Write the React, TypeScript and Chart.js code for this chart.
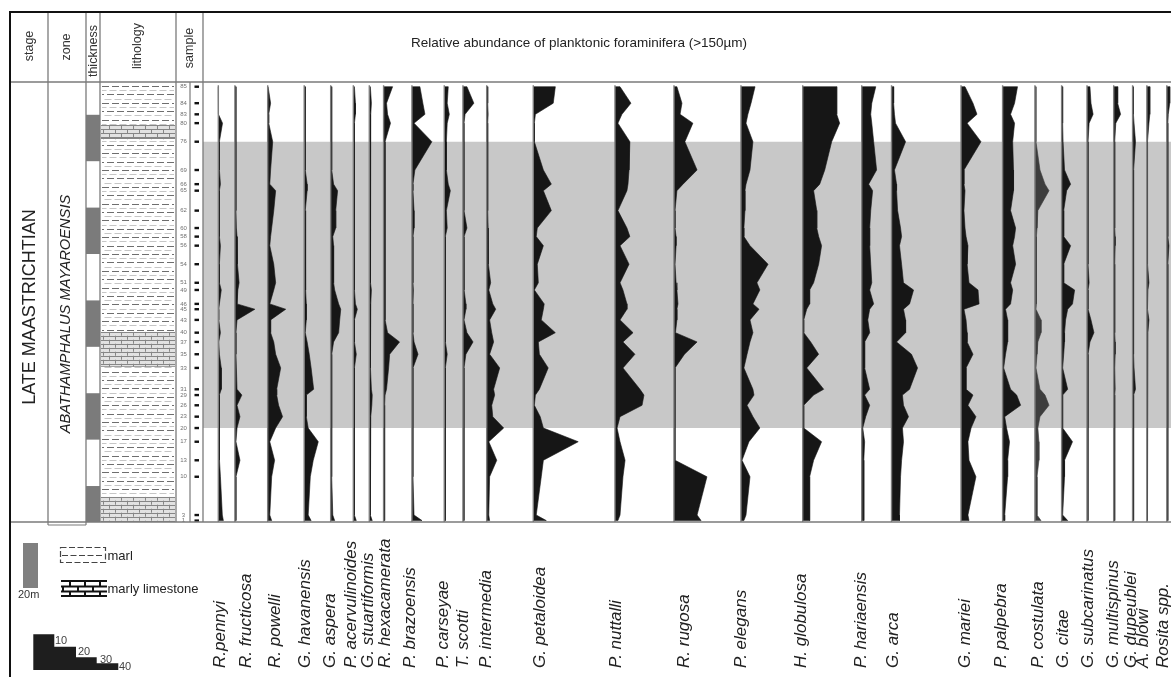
import React, { useEffect, useRef } from 'react';
import { Chart, registerables } from 'chart.js';

Chart.register(...registerables);

// ---------------- data ----------------
const SAMPLES = ['85','84','83','80','76','69','66','65','62','60','58','56','54','51','49','46','45','43','40','37','35','33','31','29','26','23','20','17','13','10','3','1'];
// stratigraphic height of each sample (m above section base)
const SAMPLE_HEIGHT = [187.6,180.5,175.7,171.9,163.9,151.7,145.6,142.8,134.2,126.7,123.0,119.1,111.1,103.1,100.0,94.0,91.7,87.1,81.6,77.6,72.3,66.4,57.2,54.7,50.3,45.4,40.5,34.6,26.6,19.5,3.0,0.6];

const THICKNESS_BANDS = [[0, 15.5], [35.5, 55.5], [75.5, 95.5], [115.5, 135.5], [155.5, 175.5]];
const LIMESTONE_BEDS = [[0, 10.9], [66.9, 82.0], [165.0, 171.1]];
const HIGHLIGHT_FROM_SAMPLE = '20';
const HIGHLIGHT_TO_SAMPLE = '76';

const SPECIES = ['R.pennyi','R. fructicosa','R. powelli','G. havanensis','G. aspera','P. acervulinoides','G. stuartiformis','R. hexacamerata','P. brazoensis','P. carseyae','T. scotti','P. intermedia','G. petaloidea','P. nuttalli','R. rugosa','P. elegans','H. globulosa','P. hariaensis','G. arca','G. mariei','P. palpebra','P. costulata','G. citae','G. subcarinatus','G. multispinus','G. dupeublei','A. blowi','Rosita spp.'];

// relative abundance (%) per sample, top (85) to bottom (1)
const R_PENNYI = [0,0,0.2,2, 0.5,0.5,1,0.5, 0.5,0.5,0.5,1, 0.5,0.5,1.4,0.5, 0.2,0.2,1,0.2, 0.5,1.4,1.4,0.5, 0.5,0.5,0.5,0.5, 0.7,1,1.9,2.4];
const R_FRUCTICOSA = [0.5,0.5,0.5,0.5, 0.5,0.5,0.5,0.5, 0.5,0.7,1,1, 1.4,2,1.4,1, 9.5,1,0.5,0.5, 0.5,0.7,1,3.3, 1,2.4,1,0.5, 2.4,0.5,0.5,0.5];
const R_POWELLI = [0.2,1.4,0.5,0.5, 2.4,1.4,1,3.8, 2.9,1.9,1.4,1, 2.9,3.8,2.9,1, 8.6,1.4,1.4,2.9, 3.8,6.2,4.3,4.3, 5.2,7.1,3.8,1, 3.3,1.9,1,1.9];
const G_HAVANENSIS = [0.5,0.5,0.5,0.5, 0.5,0.5,1.4,1.4, 0.5,0.5,0.7,0.7, 0.7,0.7,0.7,1, 1,1,0.5,1.4, 2.4,3.3,4.5,1, 1,1,1.9,6.7, 4.3,2.9,1.9,3.3];
const G_ASPERA = [0.5,0.5,0.5,0.5, 0.5,0.5,1.4,3.3, 2.4,2.4,1,1.4, 1.4,1.4,1.9,3.8, 4.8,4.3,3.8,1.4, 0.5,0.5,0.5,0.5, 0.5,0.5,0.5,0.5, 0.5,0.5,1,1.9];
const P_ACERVULINOIDES = [0.5,1,1,0.5, 0.5,0.5,0.5,0.5, 0.5,0.5,0.5,0.5, 0.5,0.5,0.5,1, 1.9,0.5,0.5,0.5, 1.4,0.5,0.5,0.5, 0.5,0.5,0.5,0.5, 0.5,0.5,0.5,1.4];
const G_STUARTIFORMIS = [0.5,1,0.7,0.5, 0.5,0.5,0.5,0.5, 0.5,0.5,0.7,0.7, 0.7,0.7,1,0.7, 0.5,0.5,0.5,0.5, 0.5,0.7,1,1.4, 1.2,0.7,0.5,0.5, 0.5,0.5,0.5,1.4];
const R_HEXACAMERATA = [4.3,1.4,1.9,3.3, 0.7,0.7,0.7,0.7, 0.7,0.7,0.7,0.7, 0.7,0.7,0.7,0.7, 0.7,1,1.9,7.6, 2.9,2.4,1.4,0.7, 0.5,0.5,0.5,0.5, 0.5,0.5,0.5,0.5];
const P_BRAZOENSIS = [3.8,5.2,6.2,1, 9.5,1.4,0.5,0.5, 1,1,0.5,0.5, 0.5,0.5,0.7,0.5, 0.5,0.5,0.5,1, 2.9,0.5,0.5,0.5, 0.5,0.5,0.5,0.5, 0.5,0.5,1,4.8];
const P_CARSEYAE = [1.9,1.4,2.4,1.4, 1,1,1.9,2.9, 1,1.4,0.5,0.5, 0.5,0.5,0.5,0.5, 0.5,0.5,0.5,0.7, 1.4,0.5,0.5,0.5, 0.5,0.5,0.5,0.5, 0.5,0.5,0.5,0.5];
const T_SCOTTI = [1.9,5.2,1,0.5, 0.5,0.5,0.5,0.5, 0.5,1.9,0.5,0.5, 0.5,0.7,0.5,1.4, 1.4,0.5,1.9,4.8, 1.4,0.5,0.5,0.5, 0.5,0.5,0.5,0.5, 0.5,0.5,0.5,0.7];
const P_INTERMEDIA = [0.5,0.5,0.7,0.5, 0.5,0.5,0.5,0.5, 0.5,0.7,0.7,1, 0.7,1.9,1,2.9, 4.3,1.4,2.4,3.3, 1.4,6.2,3.3,3.8, 2.4,2.9,8.1,1, 4.8,1.4,1,1.4];
const G_PETALOIDEA = [10.5,9.5,1,0.5, 0.5,4.8,8.6,4.8, 8.6,1.9,1.4,4.8, 1.9,2.4,0.5,5.2, 4.8,3.8,10.5,2.4, 2.9,7.1,2.9,1, 0.5,3.3,4.8,21.4, 4.8,3.8,1.4,6.2];
const P_NUTTALLI = [2.4,7.6,3.3,1.4, 7.1,6.7,6.2,5.7, 1.4,5.7,7.1,2.4, 6.7,2.4,3.8,5.7, 5.7,2.4,8.6,3.8, 9.5,3.8,11.9,13.8, 12.9,2.4,1,2.4, 4.8,3.8,2.4,1.4];
const R_RUGOSA = [1.4,3.8,2.9,9, 5.2,11,4.3,1.4, 0.5,0.5,1,1, 0.5,1,1.4,1.9, 1.4,1.4,0.7,11, 5,0.5,0.5,0.5, 0.5,0.5,0.5,0.5, 0.5,15.7,11,12.9];
const P_ELEGANS = [6.7,4.8,3.3,2.4, 5.7,4.3,2.4,1.9, 1.9,1.4,1.4,4.3, 12.9,7.6,9,5.7, 8.6,4.3,5.7,4.3, 2.9,1.4,5.7,6.2, 2.9,5.7,9,3.8, 0.5,4.3,2.4,1.4];
const H_GLOBULOSA = [16.2,16.2,16.2,17.6, 13.8,10.5,8.1,5.2, 6.7,6.7,7.6,9, 7.6,5.2,3.3,3.3, 1.9,0.5,0.5,3.8, 7.6,1.9,10,5.2, 0.5,0.5,0.5,9, 5.2,3.3,3.3,3.3];
const P_HARIAENSIS = [6.7,4.8,4.3,4.8, 5.7,7.1,3.3,5.2, 4.3,3.8,3.8,3.8, 4.3,4.8,3.8,5.7, 3.8,2.9,3.8,1.4, 1.4,1.4,3.8,1.4, 3.8,1.9,0.5,1.4, 1,1,1,1];
const G_ARCA = [1,1,1.4,1.9, 6.7,1.4,2.4,2.4, 2.9,4.3,4.8,3.8, 4.8,5.7,10.5,8.6, 5.7,6.7,6.7,2.4, 9.5,12.4,8.6,5.2, 5.7,8.1,5.2,5.7, 4.8,4.3,3.8,3.8];
const G_MARIEI = [1.9,5.7,7.6,2.9, 9.5,1.4,1.4,1.9, 1.4,1.9,2.4,3.3, 2.9,3.8,8.1,8.6, 1.4,2.4,2.9,2.9, 5.7,2.4,2.4,5.7, 3.3,7.1,4.8,3.3, 3.8,7.1,3.3,3.8];
const P_PALPEBRA = [7.1,5.7,3.8,5.7, 4.8,5.2,5.2,5.2, 3.8,6.2,5.7,4.8, 6.2,3.8,4.8,3.8, 1.4,2.4,2.4,2.4, 1.4,0.5,3.8,6.7, 8.6,1,1.9,3.3, 2.4,2.4,1,1];
const P_COSTULATA = [0.5,0.5,0.5,0.5, 0.5,2.4,4.8,6.7, 1.4,1,0.7,0.7, 0.7,0.7,0.7,0.7, 0.5,2.9,2.9,1.4, 1,0.5,2.4,4.8, 6.7,2.4,1.4,1.9, 1.9,1,1,2.9];
const G_CITAE = [0.5,0.5,0.5,0.5, 0.7,1.4,4.3,2.4, 1,1,1,4.3, 1,1,6.2,5.2, 2.9,1.9,1.4,1.4, 1,0.5,2.9,0.5, 0.5,0.5,0.5,5.2, 1.4,1.4,0.5,2.9];
const G_SUBCARINATUS = [1.4,1.9,2.9,1, 0.5,0.5,0.5,0.5, 0.5,0.5,0.5,0.5, 0.5,1,0.5,0.5, 0.5,1.9,3.3,1.4, 0.5,0.5,0.5,0.5, 0.5,0.5,0.5,0.5, 0.5,0.5,0.5,0.5];
const G_MULTISPINUS = [1.9,1.9,3.3,1, 0.5,0.5,0.5,0.5, 0.5,0.5,0.7,0.7, 0.5,0.5,0.5,0.5, 0.5,0.5,0.5,0.7, 0.7,0.5,0.7,0.5, 0.5,0.5,0.5,0.5, 0.5,0.5,0.5,0.5];
const G_DUPEUBLEI = [0.3,0.3,0.5,0.7, 1.4,0.5,0.3,0.3, 0.5,0.5,0.5,0.5, 0.5,0.5,0.5,0.5, 0.5,0.5,0.5,0.5, 0.5,0.7,1.4,0.5, 0.5,0.5,0.5,0.5, 0.5,0.5,0.5,0.5];
const A_BLOWI = [1.4,1.4,1.4,1, 0.3,0.3,0.3,0.3, 0.3,0.3,0.3,0.3, 0.5,1,0.5,0.3, 0.3,1,0.5,0.3, 0.3,0.3,0.3,0.3, 0.3,0.3,0.3,0.3, 0.3,0.3,0.3,0.3];
const ROSITA = [1.4,1.4,0.7,0.5, 0.5,0.5,0.5,0.5, 0.5,0.5,0.5,1, 0.5,0.5,0.5,0.5, 0.5,0.5,0.5,0.5, 0.5,0.5,0.5,0.5, 0.5,0.5,0.5,0.5, 0.5,0.5,0.5,0.5];

const ABUNDANCE = [R_PENNYI, R_FRUCTICOSA, R_POWELLI, G_HAVANENSIS, G_ASPERA, P_ACERVULINOIDES, G_STUARTIFORMIS, R_HEXACAMERATA, P_BRAZOENSIS, P_CARSEYAE, T_SCOTTI, P_INTERMEDIA, G_PETALOIDEA, P_NUTTALLI, R_RUGOSA, P_ELEGANS, H_GLOBULOSA, P_HARIAENSIS, G_ARCA, G_MARIEI, P_PALPEBRA, P_COSTULATA, G_CITAE, G_SUBCARINATUS, G_MULTISPINUS, G_DUPEUBLEI, A_BLOWI, ROSITA];

const SCALE_STEPS = ['10', '20', '30', '40'];

// ---------------- layout (not data) ----------------
const W = 1171;
const H = 677;
const PLOT_LEFT = 203;
const PLOT_TOP = 83;
const PLOT_BOTTOM = 522;
const X_MAX = 461;   // axis span in % units (2.1 px per %)
const Y_MAX = 189.2; // section height shown (m)
// baseline of each species column, in axis (%) units from the plot's left edge
const COLUMN_OFFSET = [7.3, 15.2, 30.8, 48.2, 60.8, 71.6, 79.2, 86.0, 99.5, 114.9, 123.8, 135.1, 157.3, 196.2, 224.3, 256.2, 285.6, 313.7, 327.9, 361.0, 380.8, 396.2, 408.9, 421.0, 433.7, 442.7, 449.5, 459.0];
const LABEL_X = [220, 246.7, 275, 305, 330, 351.7, 368.3, 385, 410, 443.3, 463.3, 486.7, 540, 616.7, 684, 741.7, 801.7, 861.7, 893.3, 965, 1001.7, 1038.3, 1063.3, 1088.3, 1113.3, 1131.7, 1143.3, 1163.3];
const FONT = '"Liberation Sans", Arial, Helvetica, sans-serif';
const FILL = '#161616';
const FILL_LIGHT = '#3d3d3d';

function drawMarl(ctx: CanvasRenderingContext2D, x0: number, x1: number, y0: number, y1: number) {
  ctx.save();
  ctx.beginPath();
  ctx.rect(x0, y0, x1 - x0, y1 - y0);
  ctx.clip();
  ctx.fillStyle = '#ffffff';
  ctx.fillRect(x0, y0, x1 - x0, y1 - y0);
  let row = 0;
  for (let y = PLOT_TOP + 3; y < PLOT_BOTTOM; y += 4.2) {
    if (y >= y0 - 1 && y <= y1 + 1) {
      ctx.strokeStyle = row % 2 === 0 ? '#6e6e6e' : '#c6c6c6';
      ctx.lineWidth = 1;
      ctx.setLineDash([7, 3]);
      ctx.lineDashOffset = (row % 4) * 2.5;
      ctx.beginPath();
      ctx.moveTo(x0 + 2, Math.round(y) + 0.5);
      ctx.lineTo(x1 - 2, Math.round(y) + 0.5);
      ctx.stroke();
    }
    row++;
  }
  ctx.restore();
}

function drawLimestone(ctx: CanvasRenderingContext2D, x0: number, x1: number, y0: number, y1: number) {
  ctx.save();
  ctx.beginPath();
  ctx.rect(x0, y0, x1 - x0, y1 - y0);
  ctx.clip();
  ctx.fillStyle = '#e2e2e2';
  ctx.fillRect(x0, y0, x1 - x0, y1 - y0);
  ctx.strokeStyle = '#868686';
  ctx.lineWidth = 1;
  const h = 4;
  let row = 0;
  for (let y = y0; y < y1; y += h, row++) {
    ctx.beginPath();
    ctx.moveTo(x0, Math.round(y) + 0.5);
    ctx.lineTo(x1, Math.round(y) + 0.5);
    ctx.stroke();
    for (let x = x0 + (row % 2 ? 2 : 8); x < x1; x += 12) {
      ctx.beginPath();
      ctx.moveTo(Math.round(x) + 0.5, y);
      ctx.lineTo(Math.round(x) + 0.5, y + h);
      ctx.stroke();
    }
  }
  ctx.beginPath();
  ctx.moveTo(x0, Math.round(y1) - 0.5);
  ctx.lineTo(x1, Math.round(y1) - 0.5);
  ctx.stroke();
  ctx.restore();
}

function line(ctx: CanvasRenderingContext2D, x0: number, y0: number, x1: number, y1: number, color: string, w: number) {
  ctx.strokeStyle = color;
  ctx.lineWidth = w;
  ctx.setLineDash([]);
  ctx.beginPath();
  ctx.moveTo(x0, y0);
  ctx.lineTo(x1, y1);
  ctx.stroke();
}

function vText(ctx: CanvasRenderingContext2D, text: string, x: number, y: number, font: string, color: string, align: CanvasTextAlign) {
  ctx.save();
  ctx.translate(x, y);
  ctx.rotate(-Math.PI / 2);
  ctx.font = font;
  ctx.fillStyle = color;
  ctx.textAlign = align;
  ctx.textBaseline = 'middle';
  ctx.fillText(text, 0, 0);
  ctx.restore();
}

const framePlugin = {
  id: 'sectionFrame',
  afterDraw(chart: any) {
    const ctx: CanvasRenderingContext2D = chart.ctx;
    const ys = chart.scales.y;
    const Y = (m: number) => ys.getPixelForValue(m);
    const top = chart.chartArea.top;
    const bottom = chart.chartArea.bottom;
    ctx.save();

    // thickness column
    ctx.fillStyle = '#7b7b7b';
    THICKNESS_BANDS.forEach(([a, b]) => {
      const y0 = Y(b);
      const y1 = Y(a);
      ctx.fillRect(86, y0, 14, y1 - y0);
    });

    // lithology column
    drawMarl(ctx, 100, 176, top, bottom);
    LIMESTONE_BEDS.forEach(([a, b]) => drawLimestone(ctx, 101, 175, Y(b), Y(a)));

    // samples
    SAMPLES.forEach((s, i) => {
      const y = Y(SAMPLE_HEIGHT[i]);
      ctx.fillStyle = '#111';
      ctx.fillRect(194.5, y - 1.2, 4.5, 2.4);
      ctx.font = `6px ${FONT}`;
      ctx.fillStyle = '#707070';
      ctx.textAlign = 'center';
      ctx.textBaseline = 'middle';
      ctx.fillText(s, 183.5, y);
    });

    // grid lines of the table
    const g = '#7a7a7a';
    line(ctx, 10, 82, W, 82, g, 1.5);
    line(ctx, 10, PLOT_BOTTOM, W, PLOT_BOTTOM, g, 1.5);
    [48, 86, 100, 176, 203].forEach((x) => line(ctx, x, 12, x, PLOT_BOTTOM, g, 1.3));
    line(ctx, 190, 82, 190, PLOT_BOTTOM, g, 1.2);
    line(ctx, 48, 525, 86, 525, g, 1.2);
    line(ctx, 48, PLOT_BOTTOM, 48, 525, g, 1.2);
    line(ctx, 86, PLOT_BOTTOM, 86, 525, g, 1.2);
    // outer border
    line(ctx, 10, 12, W, 12, '#111', 2);
    line(ctx, 10, 11, 10, H, '#111', 2);

    // header texts
    const hf = `12.5px ${FONT}`;
    vText(ctx, 'stage', 30, 46, hf, '#333', 'center');
    vText(ctx, 'zone', 67, 47, hf, '#333', 'center');
    vText(ctx, 'thickness', 93.5, 51, `12.5px ${FONT}`, '#333', 'center');
    vText(ctx, 'lithology', 138, 46, hf, '#333', 'center');
    vText(ctx, 'sample', 190, 48, hf, '#333', 'center');
    ctx.font = `13.5px ${FONT}`;
    ctx.fillStyle = '#222';
    ctx.textAlign = 'left';
    ctx.textBaseline = 'middle';
    ctx.fillText('Relative abundance of planktonic foraminifera (>150\u00b5m)', 411, 43);

    // stage / zone
    vText(ctx, 'LATE MAASTRICHTIAN', 30, 307, `18px ${FONT}`, '#222', 'center');
    vText(ctx, 'ABATHAMPHALUS MAYAROENSIS', 66, 314, `italic 14.7px ${FONT}`, '#222', 'center');

    // species names
    SPECIES.forEach((name, i) => {
      vText(ctx, name, LABEL_X[i], 668, `italic 17px ${FONT}`, '#222', 'left');
    });

    // legend: thickness
    ctx.fillStyle = '#808080';
    ctx.fillRect(23, 543, 15, 45);
    ctx.font = `11px ${FONT}`;
    ctx.fillStyle = '#333';
    ctx.textAlign = 'left';
    ctx.textBaseline = 'middle';
    ctx.fillText('20m', 18, 595);

    // legend: marl
    ctx.strokeStyle = '#444';
    ctx.lineWidth = 1.2;
    ctx.setLineDash([6, 2.5]);
    ctx.strokeRect(60.5, 547.5, 45, 15);
    ctx.beginPath();
    ctx.moveTo(62, 555.5);
    ctx.lineTo(104, 555.5);
    ctx.stroke();
    ctx.setLineDash([]);
    ctx.font = `13px ${FONT}`;
    ctx.fillStyle = '#222';
    ctx.fillText('marl', 107.5, 556);

    // legend: marly limestone
    ctx.fillStyle = '#fff';
    ctx.fillRect(61, 580, 46, 17);
    [581, 586.5, 591.5, 596].forEach((yy) => line(ctx, 61, yy, 107, yy, '#111', 2));
    [[581, 586.5, [70, 85, 100]], [586.5, 591.5, [63, 78, 93]], [591.5, 596, [70, 85, 100]]].forEach(([a, b, xs]: any) => {
      xs.forEach((x: number) => line(ctx, x, a, x, b, '#111', 2));
    });
    ctx.font = `13px ${FONT}`;
    ctx.fillStyle = '#222';
    ctx.fillText('marly limestone', 107.5, 589);

    // legend: abundance scale staircase
    const sx = [33.3, 54.3, 76, 96.7, 118.3];
    const sy = [634.3, 646.7, 657.3, 663.3, 670];
    ctx.fillStyle = '#1e1e1e';
    ctx.beginPath();
    ctx.moveTo(sx[0], sy[0]);
    for (let k = 1; k < 5; k++) {
      ctx.lineTo(sx[k], sy[k - 1]);
      ctx.lineTo(sx[k], sy[k]);
    }
    ctx.lineTo(sx[4], sy[4]);
    ctx.lineTo(sx[0], sy[4]);
    ctx.closePath();
    ctx.fill();
    ctx.font = `11px ${FONT}`;
    ctx.fillStyle = '#444';
    ctx.textAlign = 'left';
    const lx = [55, 78, 100, 119];
    const ly = [641, 652, 660, 667];
    SCALE_STEPS.forEach((t, k) => ctx.fillText(t, lx[k], ly[k]));

    ctx.restore();
  },
};

export default function App() {
  const ref = useRef<HTMLCanvasElement>(null);

  useEffect(() => {
    const canvas = ref.current;
    if (!canvas) return;
    const n = SAMPLES.length;
    const hi = SAMPLE_HEIGHT[SAMPLES.indexOf(HIGHLIGHT_TO_SAMPLE)];
    const lo = SAMPLE_HEIGHT[SAMPLES.indexOf(HIGHLIGHT_FROM_SAMPLE)];

    const datasets: any[] = [];
    datasets.push({
      label: 'highlight',
      data: [{ x: 0, y: hi }, { x: X_MAX, y: hi }, { x: X_MAX, y: lo }, { x: 0, y: lo }],
      showLine: true,
      fill: 'shape',
      backgroundColor: '#c8c8c8',
      borderColor: 'rgba(0,0,0,0)',
      borderWidth: 0,
      pointRadius: 0,
      order: 3,
    });
    SPECIES.forEach((name, i) => {
      const off = COLUMN_OFFSET[i];
      const vals = ABUNDANCE[i];
      const color = name === 'P. costulata' ? FILL_LIGHT : FILL;
      const pts = [{ x: off, y: SAMPLE_HEIGHT[0] }]
        .concat(vals.map((v, k) => ({ x: off + v, y: SAMPLE_HEIGHT[k] })))
        .concat([{ x: off, y: SAMPLE_HEIGHT[n - 1] }]);
      datasets.push({
        label: name,
        data: pts,
        showLine: true,
        fill: 'shape',
        backgroundColor: color,
        borderColor: color,
        borderWidth: 0.6,
        pointRadius: 0,
        order: 2,
      });
      datasets.push({
        label: name + ' baseline',
        data: [{ x: off, y: Y_MAX - 1 }, { x: off, y: 0 }],
        showLine: true,
        fill: false,
        borderColor: '#7d7d7d',
        borderWidth: 1.4,
        pointRadius: 0,
        order: 1,
      });
    });

    const chart = new Chart(canvas, {
      type: 'scatter',
      data: { datasets },
      options: {
        animation: false,
        responsive: false,
        maintainAspectRatio: false,
        devicePixelRatio: 1,
        indexAxis: 'y',
        layout: { padding: { left: PLOT_LEFT, right: 0, top: PLOT_TOP, bottom: H - PLOT_BOTTOM } },
        plugins: { legend: { display: false }, tooltip: { enabled: false }, title: { display: false } },
        elements: { point: { radius: 0, hoverRadius: 0 }, line: { tension: 0 } },
        events: [],
        scales: {
          x: { type: 'linear', display: false, min: 0, max: X_MAX },
          y: { type: 'linear', display: false, min: 0, max: Y_MAX },
        },
      } as any,
      plugins: [framePlugin],
    });
    return () => chart.destroy();
  }, []);

  return (
    <div style={{ position: 'absolute', left: 0, top: 0, width: W, height: H, background: '#fff' }}>
      <canvas ref={ref} width={W} height={H} style={{ display: 'block', width: W, height: H }} />
    </div>
  );
}
